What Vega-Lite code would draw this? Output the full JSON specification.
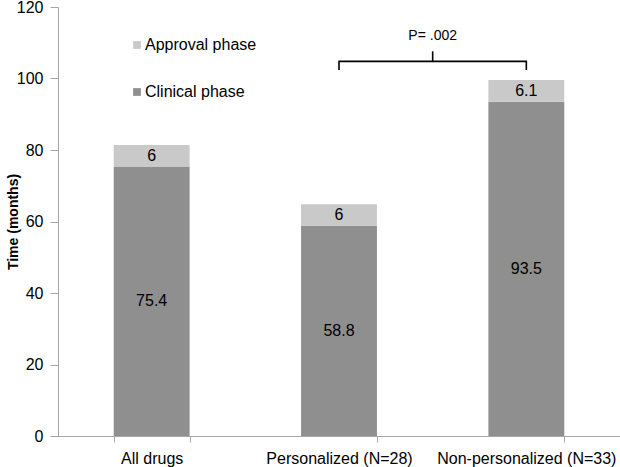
{
  "$schema": "https://vega.github.io/schema/vega-lite/v6.json",
  "width": 562,
  "height": 429,
  "autosize": {"type": "none"},
  "padding": {"left": 58, "top": 7, "right": 0, "bottom": 31},
  "background": "white",
  "config": {
    "view": {"stroke": null},
    "font": "Liberation Sans",
    "axis": {"domainColor": "#a6a6a6", "tickColor": "#a6a6a6", "labelColor": "#000000", "labelFont": "Liberation Sans", "labelFontSize": 16, "grid": false}
  },
  "datasets": {
    "bars": [
      {"cat": "All drugs", "phase": "Clinical phase", "value": 75.4, "label": "75.4", "ord": 1},
      {"cat": "All drugs", "phase": "Approval phase", "value": 6, "label": "6", "ord": 2},
      {"cat": "Personalized (N=28)", "phase": "Clinical phase", "value": 58.8, "label": "58.8", "ord": 1},
      {"cat": "Personalized (N=28)", "phase": "Approval phase", "value": 6, "label": "6", "ord": 2},
      {"cat": "Non-personalized (N=33)", "phase": "Clinical phase", "value": 93.5, "label": "93.5", "ord": 1},
      {"cat": "Non-personalized (N=33)", "phase": "Approval phase", "value": 6.1, "label": "6.1", "ord": 2}
    ],
    "bracket": [
      {"cat": "Personalized (N=28)", "y": 102.4, "k": 1},
      {"cat": "Personalized (N=28)", "y": 104.8, "k": 2},
      {"cat": "Non-personalized (N=33)", "y": 104.8, "k": 3},
      {"cat": "Non-personalized (N=33)", "y": 102.4, "k": 4}
    ],
    "tip": [{"cat": "Personalized (N=28)", "y": 104.8, "y2": 107.6, "text": "P= .002", "ty": 112}]
  },
  "encoding": {
    "x": {
      "field": "cat", "type": "nominal",
      "sort": ["All drugs", "Personalized (N=28)", "Non-personalized (N=33)"],
      "scale": {"paddingInner": 0.595, "paddingOuter": 0.2975},
      "axis": {"title": null, "labelAngle": 0, "tickBand": "extent", "tickSize": 6, "labelPadding": 8, "labelFontSize": 16}
    }
  },
  "layer": [
    {
      "data": {"name": "bars"},
      "mark": {"type": "bar"},
      "encoding": {
        "y": {
          "field": "value", "type": "quantitative", "stack": "zero",
          "scale": {"domain": [0, 120], "nice": false},
          "axis": {"title": "Time (months)", "titleFontSize": 14, "titleFont": "Liberation Sans", "titleFontWeight": "bold", "titleColor": "#000000", "values": [0, 20, 40, 60, 80, 100, 120], "tickSize": 8, "labelPadding": 7, "titlePadding": -4}
        },
        "order": {"field": "ord", "type": "quantitative"},
        "color": {
          "field": "phase", "type": "nominal",
          "scale": {"domain": ["Approval phase", "Clinical phase"], "range": ["#c9c9c9", "#8f8f8f"]},
          "legend": {"title": null, "orient": "none", "legendX": 71, "legendY": 30, "symbolType": "square", "symbolSize": 60, "symbolStrokeWidth": 0, "labelFontSize": 16, "labelFont": "Liberation Sans", "rowPadding": 31, "labelOffset": 0}
        }
      }
    },
    {
      "data": {"name": "bars"},
      "transform": [
        {"stack": "value", "groupby": ["cat"], "sort": [{"field": "ord"}], "as": ["v0", "v1"]},
        {"calculate": "(datum.v0 + datum.v1) / 2", "as": "mid"}
      ],
      "mark": {"type": "text", "fontSize": 16, "font": "Liberation Sans", "color": "#000000"},
      "encoding": {
        "y": {"field": "mid", "type": "quantitative"},
        "text": {"field": "label"}
      }
    },
    {
      "data": {"name": "bracket"},
      "mark": {"type": "line", "color": "#000000", "strokeWidth": 1.6, "interpolate": "monotone"},
      "encoding": {
        "y": {"field": "y", "type": "quantitative"},
        "order": {"field": "k", "type": "quantitative"}
      }
    },
    {
      "data": {"name": "tip"},
      "mark": {"type": "rule", "color": "#000000", "strokeWidth": 1.6},
      "encoding": {
        "x": {"field": "cat", "type": "nominal", "bandPosition": 1.7346},
        "y": {"field": "y", "type": "quantitative"},
        "y2": {"field": "y2"}
      }
    },
    {
      "data": {"name": "tip"},
      "mark": {"type": "text", "fontSize": 14, "font": "Liberation Sans", "color": "#000000"},
      "encoding": {
        "x": {"field": "cat", "type": "nominal", "bandPosition": 1.7346},
        "y": {"field": "ty", "type": "quantitative"},
        "text": {"field": "text"}
      }
    }
  ]
}
